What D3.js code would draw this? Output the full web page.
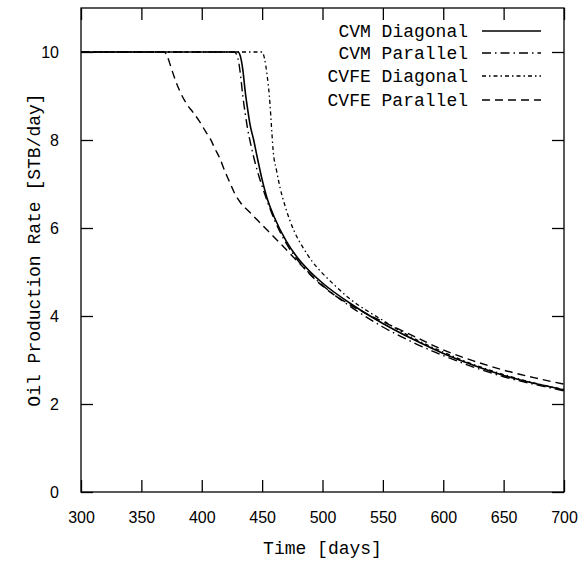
<!DOCTYPE html>
<html>
<head>
<meta charset="utf-8">
<script src="https://cdn.jsdelivr.net/npm/d3@7"></script>
<style>
  body { margin: 0; background: #fff; }
  svg { display: block; }
</style>
</head>
<body>
<div id="chart"></div>
<script>
// values (time in days, rate in STB/day)
var cvmDiagT = [300, 430, 432, 434, 436, 438, 440, 443, 446, 450, 455, 460, 470, 480, 490, 500, 525, 550, 575, 600, 625, 650, 675, 700];
var cvmDiagQ = [10, 10, 9.9, 9.6, 9.1, 8.7, 8.35, 8.0, 7.6, 7.1, 6.6, 6.25, 5.7, 5.3, 5.0, 4.75, 4.25, 3.83, 3.47, 3.15, 2.88, 2.65, 2.47, 2.32];

var cvmParT = [300, 427, 430, 432, 434, 436, 438, 441, 445, 450, 455, 460, 470, 480, 490, 500, 525, 550, 575, 600, 625, 650, 675, 700];
var cvmParQ = [10, 10, 9.85, 9.5, 9.0, 8.6, 8.25, 7.85, 7.4, 6.95, 6.55, 6.2, 5.65, 5.25, 4.95, 4.7, 4.18, 3.75, 3.4, 3.1, 2.84, 2.62, 2.45, 2.3];

var cvfeDiagT = [300, 450, 452, 454, 456, 458, 459, 462, 465, 469, 477, 484, 492, 500, 510, 520, 550, 575, 600, 625, 650, 675, 700];
var cvfeDiagQ = [10, 10, 9.85, 9.5, 9.0, 8.2, 7.8, 7.3, 6.9, 6.5, 5.9, 5.55, 5.22, 4.97, 4.7, 4.45, 3.9, 3.5, 3.18, 2.9, 2.67, 2.48, 2.33];

var cvfeParT = [300, 369, 371, 374, 377, 382, 388, 393, 398, 403, 407, 411, 415, 419, 423, 427, 432, 440, 450, 465, 480, 500, 525, 550, 575, 600, 625, 650, 675, 700];
var cvfeParQ = [10, 10, 9.93, 9.7, 9.45, 9.1, 8.8, 8.62, 8.43, 8.2, 8.03, 7.8, 7.58, 7.3, 7.05, 6.8, 6.58, 6.35, 6.07, 5.65, 5.22, 4.68, 4.22, 3.87, 3.55, 3.23, 2.98, 2.77, 2.6, 2.45];

var seriesNames = ["CVM Diagonal", "CVM Parallel", "CVFE Diagonal", "CVFE Parallel"];
var xTicks = [300, 350, 400, 450, 500, 550, 600, 650, 700];
var yTicks = [0, 2, 4, 6, 8, 10];

var width = 583,
    height = 561;
var plot = { left: 81, right: 564, top: 8, bottom: 492 };

var svg = d3
    .select("#chart")
    .append("svg")
    .attr("width", width)
    .attr("height", height);

var x = d3.scaleLinear().domain([300, 700]).range([plot.left, plot.right]);
var y = d3.scaleLinear().domain([0, 11]).range([plot.bottom, plot.top]);

var tickFont = "'Liberation Sans', Arial, sans-serif";
var monoFont = "'Liberation Mono', 'Courier New', monospace";

// frame
svg.append("rect")
    .attr("x", plot.left)
    .attr("y", plot.top)
    .attr("width", plot.right - plot.left)
    .attr("height", plot.bottom - plot.top)
    .attr("fill", "none")
    .attr("stroke", "#000")
    .attr("stroke-width", 1.3);

// axes, ticks pointing inward on all sides
function styleAxis(g) {
    g.select(".domain").remove();
    g.selectAll(".tick line").attr("stroke", "#000").attr("stroke-width", 1.3);
    g.selectAll(".tick text")
        .attr("fill", "#000")
        .style("font-family", tickFont)
        .style("font-size", "16px");
}

svg.append("g")
    .attr("transform", "translate(0," + plot.bottom + ")")
    .call(d3.axisBottom(x).tickValues(xTicks).tickSizeInner(-12).tickSizeOuter(0).tickPadding(20).tickFormat(d3.format("d")))
    .call(styleAxis);

svg.append("g")
    .attr("transform", "translate(0," + plot.top + ")")
    .call(d3.axisTop(x).tickValues(xTicks).tickSizeInner(-12).tickSizeOuter(0).tickFormat(""))
    .call(styleAxis);

svg.append("g")
    .attr("transform", "translate(" + plot.left + ",0)")
    .call(d3.axisLeft(y).tickValues(yTicks).tickSizeInner(-12).tickSizeOuter(0).tickPadding(22).tickFormat(d3.format("d")))
    .call(styleAxis);

svg.append("g")
    .attr("transform", "translate(" + plot.right + ",0)")
    .call(d3.axisRight(y).tickValues(yTicks).tickSizeInner(-12).tickSizeOuter(0).tickFormat(""))
    .call(styleAxis);

// axis titles
svg.append("text")
    .attr("x", (plot.left + plot.right) / 2)
    .attr("y", 554)
    .attr("text-anchor", "middle")
    .style("font-family", monoFont)
    .style("font-size", "18px")
    .text("Time [days]");

svg.append("text")
    .attr("transform", "translate(40," + (plot.top + plot.bottom) / 2 + ") rotate(-90)")
    .attr("text-anchor", "middle")
    .style("font-family", monoFont)
    .style("font-size", "18px")
    .text("Oil Production Rate [STB/day]");

// curves
var series = [
    { t: cvmDiagT, q: cvmDiagQ, dash: null, w: 1.6 },
    { t: cvmParT, q: cvmParQ, dash: "9,4,1.5,4", w: 1.4 },
    { t: cvfeDiagT, q: cvfeDiagQ, dash: "4,3,1.5,3", w: 1.3 },
    { t: cvfeParT, q: cvfeParQ, dash: "8,5", w: 1.4 }
];

var line = d3
    .line()
    .x(function (d) { return x(d[0]); })
    .y(function (d) { return y(d[1]); })
    .curve(d3.curveMonotoneX);

svg.append("g")
    .selectAll("path")
    .data(series)
    .enter()
    .append("path")
    .attr("d", function (s) {
        return line(s.t.map(function (t, i) { return [t, s.q[i]]; }));
    })
    .attr("fill", "none")
    .attr("stroke", "#000")
    .attr("stroke-width", function (s) { return s.w; })
    .attr("stroke-dasharray", function (s) { return s.dash; });

// legend (no box), text right-aligned before the sample line
var legendRowsY = [31, 53, 76, 100];
var legend = svg.append("g");

legend.selectAll("text")
    .data(seriesNames)
    .enter()
    .append("text")
    .attr("x", 468)
    .attr("y", function (d, i) { return legendRowsY[i]; })
    .attr("dy", "0.35em")
    .attr("text-anchor", "end")
    .style("font-family", monoFont)
    .style("font-size", "18px")
    .text(function (d) { return d; });

legend.selectAll("line")
    .data(series)
    .enter()
    .append("line")
    .attr("x1", 482)
    .attr("x2", 541)
    .attr("y1", function (d, i) { return legendRowsY[i]; })
    .attr("y2", function (d, i) { return legendRowsY[i]; })
    .attr("stroke", "#000")
    .attr("stroke-width", function (s) { return s.w; })
    .attr("stroke-dasharray", function (s) { return s.dash; });
</script>
</body>
</html>
